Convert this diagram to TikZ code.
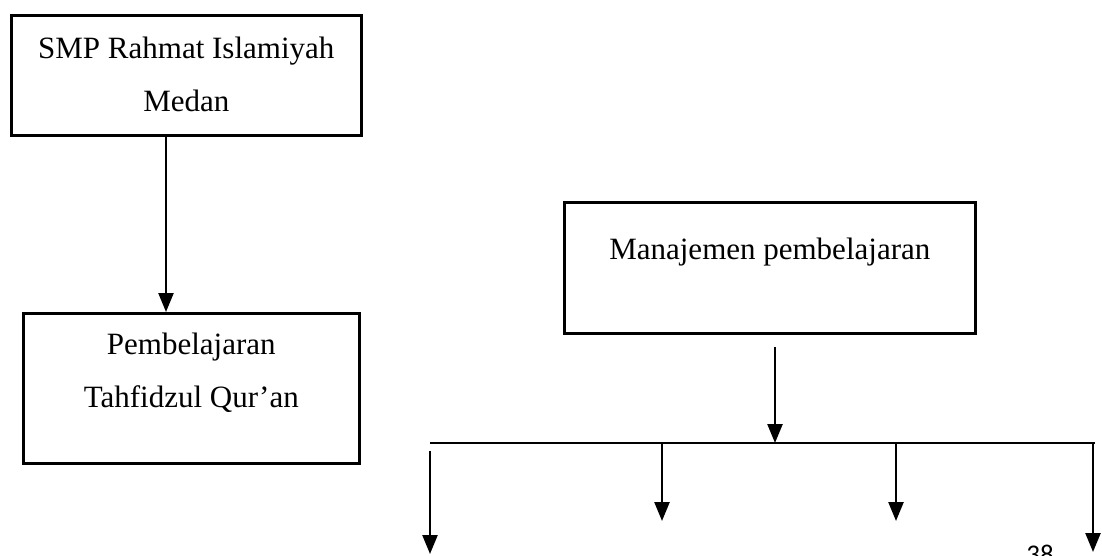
\documentclass[tikz,border=0pt]{standalone}
\usepackage{fontspec}
\setmainfont{Liberation Serif}
\newfontfamily\angkafont{Carlito}
\usetikzlibrary{arrows.meta,positioning}

\begin{document}
\begin{tikzpicture}[x=1pt, y=-1pt,
  kotak/.style={draw, line width=2.6pt, inner sep=0pt, anchor=north west,
    font=\fontsize{31}{53}\selectfont},
  panah/.style={line width=2.4pt, -{Triangle[width=15pt,length=19pt]}},
  garis/.style={line width=1.4pt}]
\useasboundingbox (0,0) rectangle (1102,555);
% kotak-kotak
\node[kotak, minimum width=350pt, text height=43pt, text depth=77pt] (sekolah) at (10,14)
  {\begin{tabular}[t]{c}SMP Rahmat Islamiyah\\Medan\end{tabular}};
\node[kotak, minimum width=336pt, text height=41pt, text depth=109pt] (tahfidz) at (22,312)
  {\begin{tabular}[t]{c}Pembelajaran\\Tahfidzul Qur’an\end{tabular}};
\node[kotak, minimum width=411pt, text height=57pt, text depth=74pt] (manajemen) at (563,201)
  {\begin{tabular}[t]{c}Manajemen pembelajaran\end{tabular}};
\coordinate (turun) at (166,0);
\draw[panah] (sekolah.south -| turun) -- (tahfidz.north -| turun);
% cabang ke bawah
\coordinate (atas) at (775,347);
\coordinate (simpul) at (775,443);
\coordinate (kiri) at (430,443);
\coordinate (kanan) at (1095,443);
\draw[panah] (atas) -- (simpul);
\draw[garis] (kiri) -- (kanan);
\coordinate (c1) at (430,451);
\coordinate (u1) at (430,554);
\coordinate (c2) at (662,443);
\coordinate (u2) at (662,521);
\coordinate (c3) at (896,443);
\coordinate (u3) at (896,521);
\coordinate (c4) at (1093,443);
\coordinate (u4) at (1093,552);
\foreach \i in {1,...,4}
  \draw[panah] (c\i) -- (u\i);
\node[font=\angkafont\fontsize{27}{30}\selectfont, anchor=base] (hal) at (1040,563) {38};
\end{tikzpicture}
\end{document}
